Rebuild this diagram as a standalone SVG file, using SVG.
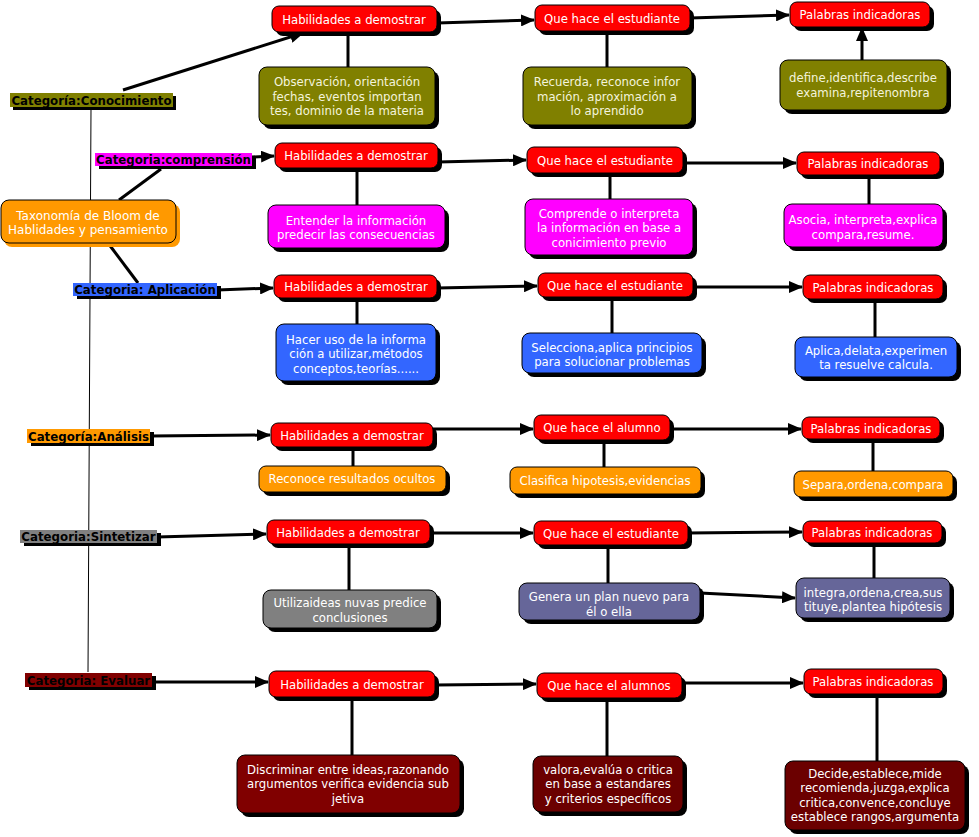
<svg xmlns="http://www.w3.org/2000/svg" width="979" height="837" viewBox="0 0 979 837">
<defs>
<marker id="ah" markerUnits="userSpaceOnUse" markerWidth="14" markerHeight="12" refX="13" refY="6" orient="auto">
<path d="M0,0 L14,6 L0,12 z" fill="#000"/>
</marker>
<style>
text{font-family:"DejaVu Sans",Verdana,sans-serif;font-size:11.7px;fill:#fff;text-anchor:middle}
.lab{font-weight:bold;fill:#000;font-size:11.8px}
.sh{fill:#000}
.bx{stroke:#000;stroke-width:1}
.red{fill:#ff0000}
.olive{fill:#808000}
.mag{fill:#ff00ff}
.blue{fill:#3366ff}
.org{fill:#ff9900}
.gray{fill:#808080}
.slate{fill:#666699}
.dred{fill:#800000}
.dred2{fill:#6b0000}
.ln{stroke:#000;stroke-width:3;fill:none}
.ar{stroke:#000;stroke-width:3;fill:none;marker-end:url(#ah)}
.thin{stroke:#000;stroke-width:1;fill:none}
.pale{fill:#f4f4dc}
</style>
</defs>
<rect width="979" height="837" fill="#fff"/>

<g id="connectors">
<path class="thin" d="M91,108 L88,672"/>
<path class="ar" d="M123,90 L303,33"/>
<path class="ar" d="M437,23 L534,20"/>
<path class="ar" d="M690,18 L789,15"/>
<path class="ln" d="M348,32 V67"/>
<path class="ln" d="M607,31 V67"/>
<path class="ar" d="M862,60 V28"/>
<path class="ar" d="M252,157 L274,156"/>
<path class="ln" d="M161,169 L119,200"/>
<path class="ln" d="M108,243 L138,283"/>
<path class="ar" d="M438,162 L526,160"/>
<path class="ar" d="M683,163 L796,163"/>
<path class="ln" d="M357,168 V205"/>
<path class="ln" d="M610,173 V199"/>
<path class="ln" d="M869,175 V204"/>
<path class="ar" d="M217,290 L273,288"/>
<path class="ar" d="M437,288 L537,286"/>
<path class="ar" d="M693,287 L802,287"/>
<path class="ln" d="M357,298 V324"/>
<path class="ln" d="M612,297 V333"/>
<path class="ln" d="M875,299 V337"/>
<path class="ar" d="M150,436 L270,435"/>
<path class="ar" d="M433,429 L533,429"/>
<path class="ar" d="M670,429 L801,429"/>
<path class="ln" d="M353,447 V466"/>
<path class="ln" d="M604,440 V467"/>
<path class="ln" d="M873,439 V471"/>
<path class="ar" d="M157,537 L266,534"/>
<path class="ar" d="M430,533 L533,533"/>
<path class="ar" d="M688,533 L802,532"/>
<path class="ln" d="M349,544 V590"/>
<path class="ln" d="M608,545 V583"/>
<path class="ar" d="M700,593 L795,598"/>
<path class="ln" d="M874,543 V578"/>
<path class="ar" d="M152,682 L268,682"/>
<path class="ar" d="M435,685 L536,684"/>
<path class="ar" d="M682,683 L803,683"/>
<path class="ln" d="M352,697 V755"/>
<path class="ln" d="M607,698 V756"/>
<path class="ln" d="M877,694 V761"/>
</g>

<!-- Row 1 -->
<g id="cat-conocimiento">
<rect class="sh" x="13" y="96" width="163" height="14"/>
<rect class="olive" x="10" y="93" width="163" height="14"/>
<text class="lab" x="91.5" y="104.5">Categoría:Conocimiento</text>
</g>
<g id="hab1">
<rect class="sh" x="276" y="10" width="165" height="26" rx="7"/>
<rect class="bx red" x="272" y="6" width="165" height="26" rx="7"/>
<text x="354" y="23.5">Habilidades a demostrar</text>
</g>
<g id="que1">
<rect class="sh" x="539" y="9" width="155" height="26" rx="7"/>
<rect class="bx red" x="535" y="5" width="155" height="26" rx="7"/>
<text x="612" y="22.5">Que hace el estudiante</text>
</g>
<g id="pal1">
<rect class="sh" x="794" y="6" width="140" height="25" rx="7"/>
<rect class="bx red" x="790" y="2" width="140" height="25" rx="7"/>
<text x="860" y="19">Palabras indicadoras</text>
</g>
<g id="obs">
<rect class="sh" x="263" y="71" width="176" height="58" rx="8"/>
<rect class="bx olive" x="259" y="67" width="176" height="58" rx="8"/>
<text class="pale"><tspan x="347" y="86">Observación, orientación</tspan><tspan x="347" y="100.5">fechas, eventos importan</tspan><tspan x="347" y="115">tes, dominio de la materia</tspan></text>
</g>
<g id="rec">
<rect class="sh" x="527" y="71" width="169" height="58" rx="8"/>
<rect class="bx olive" x="523" y="67" width="169" height="58" rx="8"/>
<text class="pale"><tspan x="607" y="86">Recuerda, reconoce infor</tspan><tspan x="607" y="100.5">mación, aproximación a</tspan><tspan x="607" y="115">lo aprendido</tspan></text>
</g>
<g id="def">
<rect class="sh" x="784" y="64" width="167" height="50" rx="8"/>
<rect class="bx olive" x="780" y="60" width="167" height="50" rx="8"/>
<text class="pale"><tspan x="863" y="82">define,identifica,describe</tspan><tspan x="863" y="96.5">examina,repitenombra</tspan></text>
</g>

<!-- Row 2 -->
<g id="cat-comprension">
<rect class="sh" x="99" y="156" width="157" height="13"/>
<rect class="mag" x="95" y="153" width="157" height="13"/>
<text class="lab" x="173.5" y="164">Categoria:comprensión</text>
</g>
<g id="taxonomia">
<rect x="4" y="204" width="176" height="43" rx="8" fill="#ff9900"/>
<rect class="bx org" x="1" y="200" width="175" height="43" rx="8"/>
<text style="font-size:12px"><tspan x="88" y="220">Taxonomía de Bloom de</tspan><tspan x="88" y="234">Hablidades y pensamiento</tspan></text>
</g>
<g id="hab2">
<rect class="sh" x="279" y="147" width="163" height="25" rx="7"/>
<rect class="bx red" x="275" y="143" width="163" height="25" rx="7"/>
<text x="356" y="160">Habilidades a demostrar</text>
</g>
<g id="que2">
<rect class="sh" x="531" y="151" width="156" height="26" rx="7"/>
<rect class="bx red" x="527" y="147" width="156" height="26" rx="7"/>
<text x="605" y="164.5">Que hace el estudiante</text>
</g>
<g id="pal2">
<rect class="sh" x="801" y="156" width="143" height="23" rx="7"/>
<rect class="bx red" x="797" y="152" width="143" height="23" rx="7"/>
<text x="868" y="168">Palabras indicadoras</text>
</g>
<g id="ent">
<rect class="sh" x="272" y="209" width="177" height="43" rx="8"/>
<rect class="bx mag" x="268" y="205" width="177" height="43" rx="8"/>
<text><tspan x="356" y="224.5">Entender la información</tspan><tspan x="356" y="239">predecir las consecuencias</tspan></text>
</g>
<g id="comp">
<rect class="sh" x="529" y="203" width="168" height="56" rx="8"/>
<rect class="bx mag" x="525" y="199" width="168" height="56" rx="8"/>
<text><tspan x="609" y="217.5">Comprende o interpreta</tspan><tspan x="609" y="232">la información en base a</tspan><tspan x="609" y="246.5">conicimiento previo</tspan></text>
</g>
<g id="aso">
<rect class="sh" x="788" y="208" width="159" height="43" rx="8"/>
<rect class="bx mag" x="784" y="204" width="159" height="43" rx="8"/>
<text><tspan x="863" y="223.5">Asocia, interpreta,explica</tspan><tspan x="863" y="238.5">compara,resume.</tspan></text>
</g>

<!-- Row 3 -->
<g id="cat-aplicacion">
<rect class="sh" x="77" y="286" width="144" height="13"/>
<rect class="blue" x="73" y="283" width="144" height="13"/>
<text class="lab" x="145" y="294">Categoria: Aplicación</text>
</g>
<g id="hab3">
<rect class="sh" x="278" y="279" width="163" height="23" rx="7"/>
<rect class="bx red" x="274" y="275" width="163" height="23" rx="7"/>
<text x="356" y="291">Habilidades a demostrar</text>
</g>
<g id="que3">
<rect class="sh" x="542" y="277" width="155" height="24" rx="7"/>
<rect class="bx red" x="538" y="273" width="155" height="24" rx="7"/>
<text x="615" y="289.5">Que hace el estudiante</text>
</g>
<g id="pal3">
<rect class="sh" x="807" y="279" width="140" height="24" rx="7"/>
<rect class="bx red" x="803" y="275" width="140" height="24" rx="7"/>
<text x="873" y="291.5">Palabras indicadoras</text>
</g>
<g id="hac">
<rect class="sh" x="280" y="328" width="160" height="57" rx="8"/>
<rect class="bx blue" x="276" y="324" width="160" height="57" rx="8"/>
<text><tspan x="356" y="343.5">Hacer uso de la informa</tspan><tspan x="356" y="358">ción a utilizar,métodos</tspan><tspan x="356" y="372.5">conceptos,teorías......</tspan></text>
</g>
<g id="sel">
<rect class="sh" x="526" y="337" width="180" height="40" rx="8"/>
<rect class="bx blue" x="522" y="333" width="180" height="40" rx="8"/>
<text><tspan x="612" y="351.5">Selecciona,aplica principios</tspan><tspan x="612" y="365.5">para solucionar problemas</tspan></text>
</g>
<g id="apl">
<rect class="sh" x="799" y="341" width="162" height="40" rx="8"/>
<rect class="bx blue" x="795" y="337" width="162" height="40" rx="8"/>
<text><tspan x="876" y="354.5">Aplica,delata,experimen</tspan><tspan x="876" y="368.5">ta resuelve calcula.</tspan></text>
</g>

<!-- Row 4 -->
<g id="cat-analisis">
<rect class="sh" x="31" y="432" width="123" height="14"/>
<rect class="org" x="27" y="429" width="123" height="14"/>
<text class="lab" x="88.5" y="440.5">Categoría:Análisis</text>
</g>
<g id="hab4">
<rect class="sh" x="275" y="427" width="162" height="24" rx="7"/>
<rect class="bx red" x="271" y="423" width="162" height="24" rx="7"/>
<text x="352" y="439.5">Habilidades a demostrar</text>
</g>
<g id="que4">
<rect class="sh" x="538" y="419" width="136" height="25" rx="7"/>
<rect class="bx red" x="534" y="415" width="136" height="25" rx="7"/>
<text x="602" y="432">Que hace el alumno</text>
</g>
<g id="pal4">
<rect class="sh" x="806" y="421" width="138" height="22" rx="7"/>
<rect class="bx red" x="802" y="417" width="138" height="22" rx="7"/>
<text x="871" y="432.5">Palabras indicadoras</text>
</g>
<g id="recon">
<rect class="sh" x="263" y="470" width="187" height="26" rx="7"/>
<rect class="bx org" x="259" y="466" width="187" height="26" rx="7"/>
<text x="352" y="483">Reconoce resultados ocultos</text>
</g>
<g id="clas">
<rect class="sh" x="514" y="471" width="191" height="27" rx="7"/>
<rect class="bx org" x="510" y="467" width="191" height="27" rx="7"/>
<text x="605" y="484.5">Clasifica hipotesis,evidencias</text>
</g>
<g id="sep">
<rect class="sh" x="798" y="475" width="159" height="26" rx="7"/>
<rect class="bx org" x="794" y="471" width="159" height="26" rx="7"/>
<text x="873" y="488.5">Separa,ordena,compara</text>
</g>

<!-- Row 5 -->
<g id="cat-sintetizar">
<rect class="sh" x="24" y="533" width="137" height="13"/>
<rect class="gray" x="20" y="530" width="137" height="13"/>
<text class="lab" x="88.5" y="541">Categoria:Sintetizar</text>
</g>
<g id="hab5">
<rect class="sh" x="271" y="524" width="163" height="24" rx="7"/>
<rect class="bx red" x="267" y="520" width="163" height="24" rx="7"/>
<text x="348" y="536.5">Habilidades a demostrar</text>
</g>
<g id="que5">
<rect class="sh" x="538" y="525" width="154" height="24" rx="7"/>
<rect class="bx red" x="534" y="521" width="154" height="24" rx="7"/>
<text x="611" y="537.5">Que hace el estudiante</text>
</g>
<g id="pal5">
<rect class="sh" x="807" y="525" width="139" height="22" rx="7"/>
<rect class="bx red" x="803" y="521" width="139" height="22" rx="7"/>
<text x="872" y="536.5">Palabras indicadoras</text>
</g>
<g id="uti">
<rect class="sh" x="267" y="594" width="174" height="38" rx="8"/>
<rect class="bx gray" x="263" y="590" width="174" height="38" rx="8"/>
<text><tspan x="350" y="606.5">Utilizaideas nuvas predice</tspan><tspan x="350" y="621.5">conclusiones</tspan></text>
</g>
<g id="gen">
<rect class="sh" x="523" y="587" width="181" height="37" rx="8"/>
<rect class="bx slate" x="519" y="583" width="181" height="37" rx="8"/>
<text><tspan x="609" y="600.5">Genera un plan nuevo para</tspan><tspan x="609" y="615.5">él o ella</tspan></text>
</g>
<g id="int">
<rect class="sh" x="800" y="582" width="154" height="40" rx="8"/>
<rect class="bx slate" x="796" y="578" width="154" height="40" rx="8"/>
<text><tspan x="873" y="596.5">integra,ordena,crea,sus</tspan><tspan x="873" y="610.5">tituye,plantea hipótesis</tspan></text>
</g>

<!-- Row 6 -->
<g id="cat-evaluar">
<rect class="sh" x="29" y="676" width="127" height="14"/>
<rect class="dred" x="25" y="673" width="127" height="14"/>
<text class="lab" x="88.5" y="684.5">Categoria: Evaluar</text>
</g>
<g id="hab6">
<rect class="sh" x="273" y="675" width="166" height="26" rx="7"/>
<rect class="bx red" x="269" y="671" width="166" height="26" rx="7"/>
<text x="352" y="688.5">Habilidades a demostrar</text>
</g>
<g id="que6">
<rect class="sh" x="541" y="677" width="145" height="25" rx="7"/>
<rect class="bx red" x="537" y="673" width="145" height="25" rx="7"/>
<text x="609" y="690">Que hace el alumnos</text>
</g>
<g id="pal6">
<rect class="sh" x="808" y="673" width="139" height="25" rx="7"/>
<rect class="bx red" x="804" y="669" width="139" height="25" rx="7"/>
<text x="873" y="686">Palabras indicadoras</text>
</g>
<g id="dis">
<rect class="sh" x="241" y="759" width="223" height="58" rx="8"/>
<rect class="bx dred" x="237" y="755" width="223" height="58" rx="8"/>
<text><tspan x="348" y="773.5">Discriminar entre ideas,razonando</tspan><tspan x="348" y="788">argumentos verifica evidencia sub</tspan><tspan x="348" y="802.5">jetiva</tspan></text>
</g>
<g id="val">
<rect class="sh" x="537" y="760" width="150" height="56" rx="8"/>
<rect class="bx dred2" x="533" y="756" width="150" height="56" rx="8"/>
<text><tspan x="608" y="773.5">valora,evalúa o critica</tspan><tspan x="608" y="788">en base a estandares</tspan><tspan x="608" y="802.5">y criterios específicos</tspan></text>
</g>
<g id="dec">
<rect class="sh" x="789" y="765" width="180" height="69" rx="8"/>
<rect class="bx dred2" x="785" y="761" width="180" height="69" rx="8"/>
<text><tspan x="875" y="777.5">Decide,establece,mide</tspan><tspan x="875" y="792">recomienda,juzga,explica</tspan><tspan x="875" y="806.5">critica,convence,concluye</tspan><tspan x="875" y="821">establece rangos,argumenta</tspan></text>
</g>
</svg>
